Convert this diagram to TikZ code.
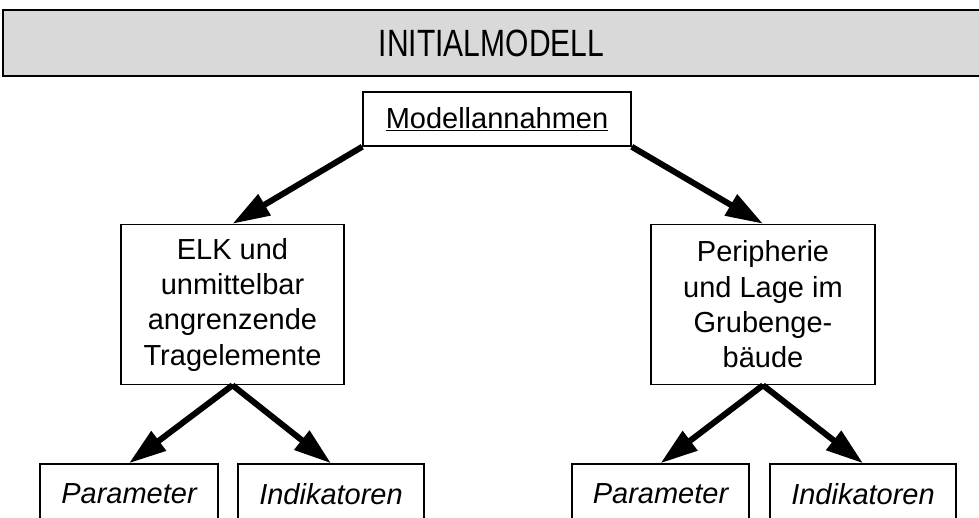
\documentclass[tikz,border=0pt]{standalone}
\usepackage{fontspec}
\setmainfont{Liberation Sans}
\newfontfamily\bannerfont[FakeStretch=0.79]{Liberation Sans}
\usetikzlibrary{arrows.meta}
\definecolor{bannergray}{HTML}{D9D9D9}
\begin{document}
\begin{tikzpicture}[x=0.75pt,y=-0.75pt,font=\fontsize{21.75}{26.5}\selectfont]
    \tikzstyle{block} = [rectangle, draw, line width=1.1pt,
        align=center, inner sep=0pt]
    \tikzstyle{line} = [draw, line width=4.5pt,
        -{Triangle[length=28pt,width=17.5pt]}]
    \useasboundingbox (0,0) rectangle (979,518);

    \node [block, fill=bannergray, line width=2pt, minimum width=732.75pt,
        minimum height=49.5pt, font=\bannerfont\fontsize{28.5}{30}\selectfont] (title) at (491.5,43) {INITIALMODELL};
    \node [block, minimum width=201pt, minimum height=40.5pt] (annahmen) at (497,119) {\underline{Modellannahmen}};
    %
    \node [block, minimum width=167.25pt, minimum height=120pt] (elk) at (232.5,304.5)
        {ELK und\\unmittelbar\\angrenzende\\Tragelemente};
    \node [block, minimum width=168pt, minimum height=120pt] (peri) at (763,304.5)
        {Peripherie\\und Lage im\\Grubenge-\\bäude};
    \path [line] (annahmen.south west) -- (elk.north);
    \path [line] (annahmen.south east) -- (peri.north);
    %
    \node [block, minimum width=133.5pt, minimum height=45pt] (param1) at (129,494) {\itshape Parameter};
    \node [block, minimum width=139.5pt, minimum height=45pt] (indik1) at (331,494) {\itshape Indikatoren};
    \path [line] (elk.south) -- (param1.north);
    \path [line] (elk.south) -- (indik1.north);
    %
    \node [block, minimum width=133pt, minimum height=45pt] (param2) at (660.5,494) {\itshape Parameter};
    \node [block, minimum width=139.5pt, minimum height=45pt] (indik2) at (863,494) {\itshape Indikatoren};
    \path [line] (peri.south) -- (param2.north);
    \path [line] (peri.south) -- (indik2.north);

\end{tikzpicture}
\end{document}
